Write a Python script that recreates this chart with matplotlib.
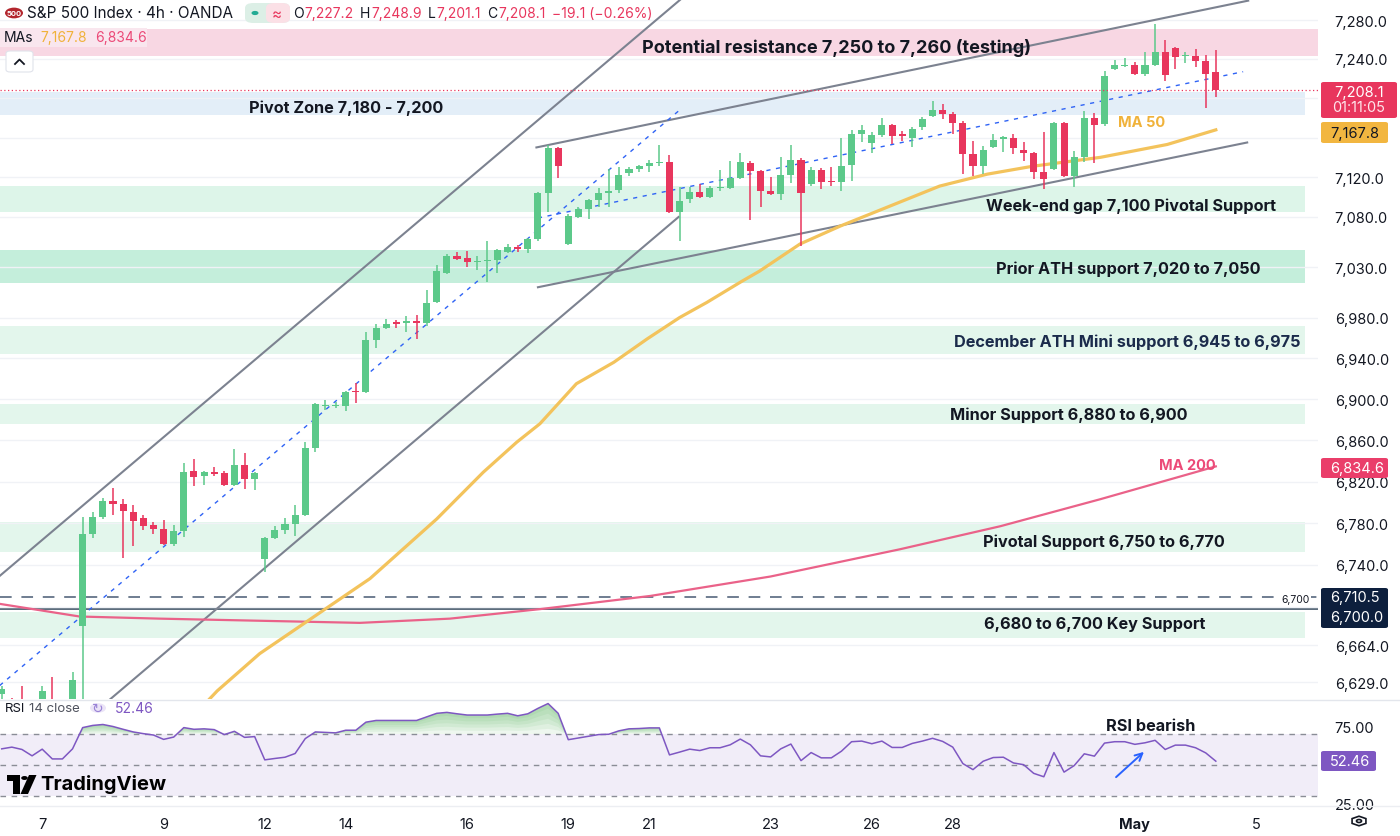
import numpy as np
import matplotlib.pyplot as plt
from matplotlib.patches import Rectangle, FancyBboxPatch, Circle, Polygon, FancyArrowPatch, RegularPolygon
from matplotlib.lines import Line2D
from matplotlib.ticker import NullLocator, NullFormatter, FuncFormatter

plt.rcParams['font.family'] = ['Inter', 'DejaVu Sans']

W, H = 1400, 837

# ---- data (4h candles, S&P 500 OANDA) ----
opens = [6618, 6608, 6611, 6600, 6612, 6612, 6604, 6606, 6682, 6770,
         6786, 6801, 6798, 6791, 6785, 6778, 6774, 6760, 6772, 6830,
         6825, 6829, 6828, 6817, 6836, 6822, 6746, 6766, 6773, 6779,
         6788, 6852, 6893, 6893, 6893, 6908, 6907, 6958, 6970, 6975,
         6975, 6976, 6975, 6995, 7024, 7041, 7039, 7035, 7036, 7037,
         7045, 7050, 7048, 7058, 7104, 7149, 7053, 7080, 7088, 7097,
         7104, 7107, 7124, 7128, 7131, 7134, 7135, 7085, 7098, 7105,
         7100, 7109, 7109, 7119, 7134, 7126, 7106, 7103, 7122, 7137,
         7113, 7127, 7116, 7115, 7132, 7164, 7154, 7163, 7173, 7163,
         7160, 7171, 7182, 7188, 7184, 7175, 7143, 7131, 7150, 7159,
         7160, 7147, 7144, 7125, 7128, 7175, 7121, 7140, 7180, 7174,
         7230, 7233, 7234, 7225, 7234, 7247, 7251, 7243, 7243, 7238,
         7227.2]
highs = [6626, 6614, 6626, 6610, 6626, 6634, 6610, 6639, 6786, 6791,
         6804, 6814, 6803, 6797, 6788, 6781, 6783, 6778, 6838, 6842,
         6830, 6834, 6830, 6851, 6848, 6829, 6767, 6777, 6785, 6797,
         6858, 6896, 6899, 6897, 6908, 6916, 6966, 6974, 6979, 6978,
         6982, 6983, 7007, 7032, 7043, 7045, 7046, 7041, 7056, 7048,
         7053, 7052, 7059, 7105, 7152, 7150, 7083, 7090, 7098, 7109,
         7128, 7130, 7130, 7132, 7137, 7152, 7142, 7110, 7110, 7113,
         7111, 7127, 7136, 7144, 7136, 7127, 7120, 7140, 7152, 7139,
         7130, 7129, 7130, 7160, 7168, 7173, 7166, 7180, 7174, 7167,
         7171, 7181, 7197, 7194, 7186, 7177, 7157, 7151, 7164, 7162,
         7164, 7156, 7145, 7166, 7176, 7176, 7146, 7187, 7185, 7228,
         7239, 7241, 7237, 7247, 7276, 7259, 7252, 7247, 7250, 7244,
         7248.9]
lows = [6608, 6590, 6592, 6585, 6600, 6595, 6590, 6598, 6600, 6766,
        6784, 6788, 6747, 6758, 6773, 6770, 6759, 6758, 6767, 6816,
        6817, 6825, 6816, 6816, 6813, 6812, 6733, 6765, 6770, 6768,
        6787, 6849, 6889, 6891, 6888, 6896, 6906, 6950, 6969, 6970,
        6966, 6959, 6972, 6994, 7023, 7037, 7030, 7027, 7015, 7024,
        7044, 7045, 7044, 7056, 7085, 7119, 7052, 7079, 7078, 7090,
        7090, 7104, 7121, 7125, 7125, 7131, 7084, 7056, 7094, 7099,
        7099, 7106, 7108, 7118, 7077, 7090, 7102, 7097, 7114, 7051,
        7111, 7108, 7111, 7106, 7116, 7156, 7144, 7161, 7153, 7157,
        7150, 7168, 7181, 7179, 7164, 7123, 7121, 7123, 7149, 7145,
        7143, 7136, 7118, 7108, 7127, 7120, 7110, 7135, 7134, 7172,
        7229, 7232, 7224, 7223, 7233, 7218, 7230, 7236, 7232, 7190,
        7201.1]
closes = [6623, 6596, 6600, 6605, 6621, 6604, 6606, 6631, 6770, 6786,
          6801, 6798, 6792, 6782, 6777, 6774, 6760, 6772, 6829, 6824,
          6829, 6827, 6817, 6836, 6822, 6828, 6766, 6773, 6779, 6788,
          6852, 6895, 6894, 6894, 6907, 6907, 6958, 6970, 6974, 6974,
          6976, 6975, 6994, 7026, 7041, 7038, 7035, 7036, 7037, 7047,
          7050, 7048, 7058, 7104, 7149, 7131, 7081, 7088, 7097, 7104,
          7106, 7122, 7128, 7131, 7134, 7135, 7085, 7096, 7105, 7100,
          7109, 7110, 7119, 7135, 7126, 7106, 7103, 7122, 7137, 7104,
          7127, 7115, 7115, 7131, 7164, 7168, 7163, 7173, 7162, 7162,
          7169, 7179, 7188, 7184, 7175, 7143, 7131, 7147, 7158, 7160,
          7149, 7144, 7125, 7118, 7175, 7121, 7140, 7180, 7173, 7223,
          7234, 7234, 7225, 7234, 7247, 7224, 7242, 7244, 7238, 7225,
          7208.1]
rsi = [60.4, 61.5, 60.0, 55.9, 60.2, 53.9, 53.9, 60.4, 74.1, 75.5,
       76.1, 74.8, 73.0, 71.3, 70.2, 69.3, 66.5, 68.0, 74.1, 73.0,
       73.3, 72.8, 69.6, 71.7, 67.8, 68.3, 53.3, 54.2, 55.0, 57.4,
       67.0, 71.3, 71.0, 70.7, 72.4, 72.4, 77.6, 78.7, 78.7, 78.7,
       78.7, 78.7, 81.0, 83.3, 83.9, 83.0, 82.2, 82.2, 82.2, 82.8,
       83.3, 81.7, 83.0, 86.5, 89.6, 83.3, 66.3, 67.4, 68.5, 69.6,
       69.8, 72.0, 73.3, 73.5, 73.9, 73.9, 56.5, 58.3, 60.2, 59.3,
       61.1, 61.1, 63.0, 66.7, 63.0, 55.9, 55.2, 60.4, 63.5, 52.8,
       58.0, 54.6, 54.6, 58.9, 65.0, 65.4, 63.7, 65.4, 61.3, 61.3,
       63.9, 65.4, 67.2, 65.2, 61.5, 50.9, 47.0, 52.4, 54.8, 55.0,
       51.3, 50.2, 44.6, 42.4, 58.0, 45.4, 49.6, 57.2, 55.7, 64.1,
       65.0, 65.0, 63.3, 64.3, 65.9, 60.0, 62.8, 62.8, 61.1, 57.8,
       52.46]

ma50_idx = [20.5, 21.3, 25.5, 36.4, 43.0, 47.6, 50.9, 53.2, 56.8, 60.5, 63.8, 67.0,
            69.7, 73.0, 74.9, 78.9, 82.9, 92.7, 97.4, 101.9, 108.6, 115.2, 120]
ma50_val = [6613, 6621, 6656, 6727, 6784, 6829, 6858, 6876, 6915, 6936, 6959, 6980,
            6995, 7015, 7026, 7053, 7071, 7111, 7123, 7131, 7140, 7153, 7167.8]
ma200_idx = [-0.2, 7.7, 15.6, 25.5, 35.4, 44.3, 53.2, 64.1, 76, 88.8, 98.7, 108.6, 120]
ma200_val = [6703, 6691, 6689, 6687, 6685, 6689, 6698, 6710.5, 6729, 6755, 6777, 6803, 6834.6]

# trend lines: ((idx0, price0), (idx1, price1))
gray_lines = [((-1, 6723), (70, 7327)),
              ((9.7, 6605), (66.9, 7080)),
              ((52.85, 7150), (123.2, 7300)),
              ((53.0, 7010), (123.1, 7155))]
blue_lines = [((-0.2, 6626), (66.9, 7187)),
              ((53.0, 7079), (122.7, 7227))]

zone_lo = [7243, 7183, 7085, 7014, 6944, 6876, 6752, 6671]
zone_hi = [7271, 7206, 7111, 7047, 6972, 6895, 6781, 6695]
zone_col = ['#f8d7e3', '#e3eef8', '#ddf5e9', '#c4eedb', '#e3f6ec', '#e3f6ec', '#e3f6ec', '#e3f6ec']

price_ticks = [7280, 7240, 7200, 7160, 7120, 7080, 7030, 6980, 6940, 6900,
               6860, 6820, 6780, 6740, 6700, 6664, 6629]
hidden_ticks = [7200, 7160, 6700]   # covered by the price boxes
day_ticks = [4, 16, 26, 34, 46, 56, 64, 76, 86, 94, 112, 124]
day_labels = ['7', '9', '12', '14', '16', '19', '21', '23', '26', '28', 'May', '5']

last_price = 7208.1
line_dash = 6709.5
line_solid = 6698.5

GREEN = '#5cc98a'
RED = '#e8365d'
TXT = '#131722'


def fx(px):
    return px / W


def fy(py):
    return 1 - py / H


def ftext(px, py, s, **kw):
    kw.setdefault('va', 'center')
    kw.setdefault('color', TXT)
    kw.setdefault('zorder', 7)
    return fig.text(fx(px), fy(py), s, **kw)


def fbox(x0, y0, x1, y1, color, r=0.0, ec='none', z=5):
    p = FancyBboxPatch((fx(x0), fy(y1)), (x1 - x0) / W, (y1 - y0) / H,
                       boxstyle='round,pad=0,rounding_size=%f' % r,
                       transform=fig.transFigure, facecolor=color, edgecolor=ec,
                       lw=0.8, zorder=z)
    fig.add_artist(p)


def tick_fmt(v, _):
    if any(abs(v - h) < 0.5 for h in hidden_ticks):
        return ''
    return f'{v:,.1f}'


fig = plt.figure(figsize=(14, 8.37), dpi=100)

# ---------------- main price pane ----------------
ax = fig.add_axes([0, fy(700), fx(1318), 700 / H])
ax.set_yscale('log')
ax.set_ylim(6613.4, 7301.7)
ax.set_xlim(-0.17, 130.1)
for s in ax.spines.values():
    s.set_visible(False)

for lo, hi, c in zip(zone_lo, zone_hi, zone_col):
    xmax = 1.0 if c == '#f8d7e3' else 0.99
    ax.axhspan(lo, hi, xmin=0, xmax=xmax, color=c, lw=0, zorder=0)

ax.yaxis.tick_right()
ax.set_yticks(price_ticks)
ax.yaxis.set_minor_locator(NullLocator())
ax.yaxis.set_minor_formatter(NullFormatter())
ax.yaxis.set_major_formatter(FuncFormatter(tick_fmt))
ax.tick_params(axis='y', length=0, pad=12, labelsize=10.5, labelcolor=TXT)
ax.set_xticks([])
ax.grid(axis='y', color='#f0f2f6', lw=1, zorder=0)

ax.axhline(line_dash, color='#6f7d90', lw=1.4, ls=(0, (6, 5)), zorder=1)
ax.axhline(line_solid, color='#4c5e70', lw=1.3, zorder=1)

for (x0, y0), (x1, y1) in gray_lines:
    ax.plot([x0, x1], [y0, y1], color='#7c8290', lw=1.5, zorder=2)
for (x0, y0), (x1, y1) in blue_lines:
    ax.plot([x0, x1], [y0, y1], color='#2f63f5', lw=1, ls=(0, (3, 4)), zorder=2)

ax.plot(ma200_idx, ma200_val, color='#ea6289', lw=1.6, zorder=2)
ax.plot(ma50_idx, ma50_val, color='#f3c35c', lw=2.3, zorder=2)

o = np.array(opens)
c = np.array(closes)
x = np.arange(len(o))
cols = np.where(c >= o, GREEN, RED)
ax.vlines(x, lows, highs, colors=cols, lw=1.1, zorder=3)
body_lo = np.minimum(o, c)
body_h = np.maximum(np.abs(c - o), 1.3)
ax.bar(x, body_h, bottom=body_lo, width=0.7, color=cols, lw=0, zorder=4)

ax.axhline(last_price, color=RED, lw=0.9, ls=(0, (1, 2)), zorder=5)

# ---------------- RSI pane ----------------
ax2 = fig.add_axes([0, fy(806), fx(1318), 103 / H])
ax2.set_xlim(-0.17, 130.1)
ax2.set_ylim(24.2, 90.6)
for s in ax2.spines.values():
    s.set_visible(False)
r = np.array(rsi)
ax2.axhspan(30, 70, color='#7e57c2', alpha=0.1, lw=0, zorder=0)
for lv in (70, 50, 30):
    ax2.axhline(lv, color='#8a8d96', lw=1, ls=(0, (4, 4)), zorder=1)
for k in range(6):
    base = 70 + (r - 70) * k / 6
    ax2.fill_between(x, base, r, where=r > 70, interpolate=True,
                     color='#4caf50', alpha=0.09, lw=0, zorder=1)
ax2.plot(x, r, color='#7e57c2', lw=1.1, zorder=3)
ax2.yaxis.tick_right()
ax2.set_yticks([75, 25])
ax2.yaxis.set_major_formatter(FuncFormatter(lambda v, _: f'{v:.2f}'))
ax2.tick_params(axis='y', length=0, pad=12, labelsize=10.5, labelcolor=TXT)
ax2.set_xticks(day_ticks)
ax2.set_xticklabels(day_labels)
ax2.tick_params(axis='x', length=0, pad=9, labelsize=10.5, labelcolor=TXT)
ax2.get_xticklabels()[10].set_fontweight('bold')

fig.add_artist(Line2D([0, 1], [fy(701), fy(701)], color='#e3e6ec', lw=1))
fig.add_artist(Line2D([0, 1], [fy(807), fy(807)], color='#eceef2', lw=1))

# ---------------- annotations ----------------
bold = dict(fontweight='bold', fontsize=11.7, ha='center')
ftext(837, 48, 'Potential resistance 7,250 to 7,260 (testing)', fontweight='bold',
      fontsize=13, ha='center')
ftext(346, 108, 'Pivot Zone 7,180 - 7,200', **bold)
ftext(1131, 206, 'Week-end gap 7,100 Pivotal Support', **bold)
ftext(1128, 269, 'Prior ATH support 7,020 to 7,050', **bold)
ftext(1127, 342, 'December ATH Mini support 6,945 to 6,975', color='#1b2b4b', **bold)
ftext(1069, 415, 'Minor Support 6,880 to 6,900', **bold)
ftext(1104, 542, 'Pivotal Support 6,750 to 6,770', **bold)
ftext(1095, 624, '6,680 to 6,700 Key Support', **bold)
ftext(1118, 123, 'MA 50', color='#f0b23a', fontweight='bold', fontsize=10.5)
ftext(1159, 466, 'MA 200', color='#ec4a78', fontweight='bold', fontsize=10.5)
ftext(1151, 727, 'RSI bearish', **bold)
fig.add_artist(FancyArrowPatch((fx(1114), fy(780)), (fx(1146), fy(751)),
                               transform=fig.transFigure, arrowstyle='->',
                               mutation_scale=13, color='#2962ff', lw=1.4, zorder=6))
ftext(1296, 600, '6,700', fontsize=7.5, ha='center',
      bbox=dict(facecolor='white', edgecolor='none', pad=0.5))

# ---------------- price axis boxes ----------------
fbox(1321, 83, 1397, 119, RED, r=0.002)
ftext(1359, 93, '7,208.1', color='white', fontsize=10.5, ha='center')
ftext(1359, 108, '01:11:05', color='#ffe4ea', fontsize=10.5, ha='center')
fbox(1321, 123, 1388, 144, '#f2b640', r=0.002)
ftext(1330, 134, '7,167.8', fontsize=10.5)
fbox(1321, 459, 1388, 479, '#ea3e6a', r=0.002)
ftext(1330, 469, '6,834.6', color='white', fontsize=10.5)
fbox(1321, 589, 1388, 629, '#0d1f3d', r=0.002)
ftext(1330, 598, '6,710.5', color='white', fontsize=10.5)
ftext(1330, 618, '6,700.0', color='white', fontsize=10.5)
fbox(1321, 752, 1376, 772, '#7e57c2', r=0.002)
ftext(1330, 762, '52.46', color='white', fontsize=10.5)

# ---------------- header ----------------
fig.add_artist(Circle((fx(14), fy(14)), 9 / W, transform=fig.transFigure,
                      facecolor='#b3262d', edgecolor='none', zorder=6))
ftext(14, 14, '500', color='white', fontsize=5.5, fontweight='bold', ha='center')
ftext(27, 14, 'S&P 500 Index · 4h · OANDA', fontsize=11)
fbox(245, 4, 290, 24, '#dcefe6', r=0.006, z=5)
fbox(266, 4, 290, 24, '#fbe0e6', r=0.006, z=5)
fig.add_artist(Circle((fx(255), fy(14)), 3.5 / W, transform=fig.transFigure,
                      facecolor='#22ab94', edgecolor='none', zorder=6))
ftext(277, 14, '≈', color=RED, fontsize=11, ha='center')

renderer = fig.canvas.get_renderer()
hdr = [('O', TXT, 1), ('7,227.2', RED, 6), ('H', TXT, 1), ('7,248.9', RED, 6),
       ('L', TXT, 1), ('7,201.1', RED, 6), ('C', TXT, 1), ('7,208.1', RED, 6),
       ('−19.1 (−0.26%)', RED, 0)]
px = 293
for s, col, gap in hdr:
    t = ftext(px, 14, s, color=col, fontsize=10)
    px += t.get_window_extent(renderer).width + gap

fbox(0, 29, 147, 48, '#f9e6ee', z=5)
ftext(4, 38, 'MAs', fontsize=10)
ftext(40, 38, '7,167.8', color='#f0b23a', fontsize=10)
ftext(95, 38, '6,834.6', color='#ec4a78', fontsize=10)
fbox(6, 52, 33, 73, 'white', r=0.003, ec='#e0e3eb', z=5)
fig.add_artist(Line2D([fx(15), fx(19.5), fx(24)], [fy(65), fy(60.5), fy(65)],
                      color=TXT, lw=1.3, zorder=6))

# RSI legend
ftext(5, 709, 'RSI', fontsize=9.5)
ftext(29, 709, '14 close', color='#50535e', fontsize=9.5)
fig.add_artist(Circle((fx(98), fy(709)), 8 / W, transform=fig.transFigure,
                      facecolor='#ebe4f7', edgecolor='none', zorder=6))
ftext(98, 709, '↻', color='#9a84d6', fontsize=10, ha='center', family=['DejaVu Sans'])
ftext(115, 709, '52.46', color='#7e57c2', fontsize=10)

# TradingView logo
fig.add_artist(Rectangle((fx(7), fy(782)), 13 / W, 6 / H, transform=fig.transFigure,
                         facecolor='black', edgecolor='none', zorder=6))
fig.add_artist(Rectangle((fx(13), fy(795)), 7 / W, 19 / H, transform=fig.transFigure,
                         facecolor='black', edgecolor='none', zorder=6))
fig.add_artist(Circle((fx(24.5), fy(779)), 3.3 / W, transform=fig.transFigure,
                      facecolor='black', edgecolor='none', zorder=6))
fig.add_artist(Polygon([(fx(29), fy(776)), (fx(36.5), fy(776)), (fx(28), fy(795)), (fx(20.5), fy(795))],
                       closed=True, transform=fig.transFigure, facecolor='black',
                       edgecolor='none', zorder=6))
ftext(40, 785, 'TradingView', fontsize=14.5, fontweight='bold', color='black')

# settings icon
fig.add_artist(RegularPolygon((fx(1359), fy(822)), 6, radius=8 / W, orientation=0,
                              transform=fig.transFigure, facecolor='none',
                              edgecolor=TXT, lw=1.2, zorder=6))
fig.add_artist(Circle((fx(1359), fy(822)), 2.5 / W, transform=fig.transFigure,
                      facecolor='none', edgecolor=TXT, lw=1.2, zorder=6))

fig.savefig('out.png', dpi=100)
